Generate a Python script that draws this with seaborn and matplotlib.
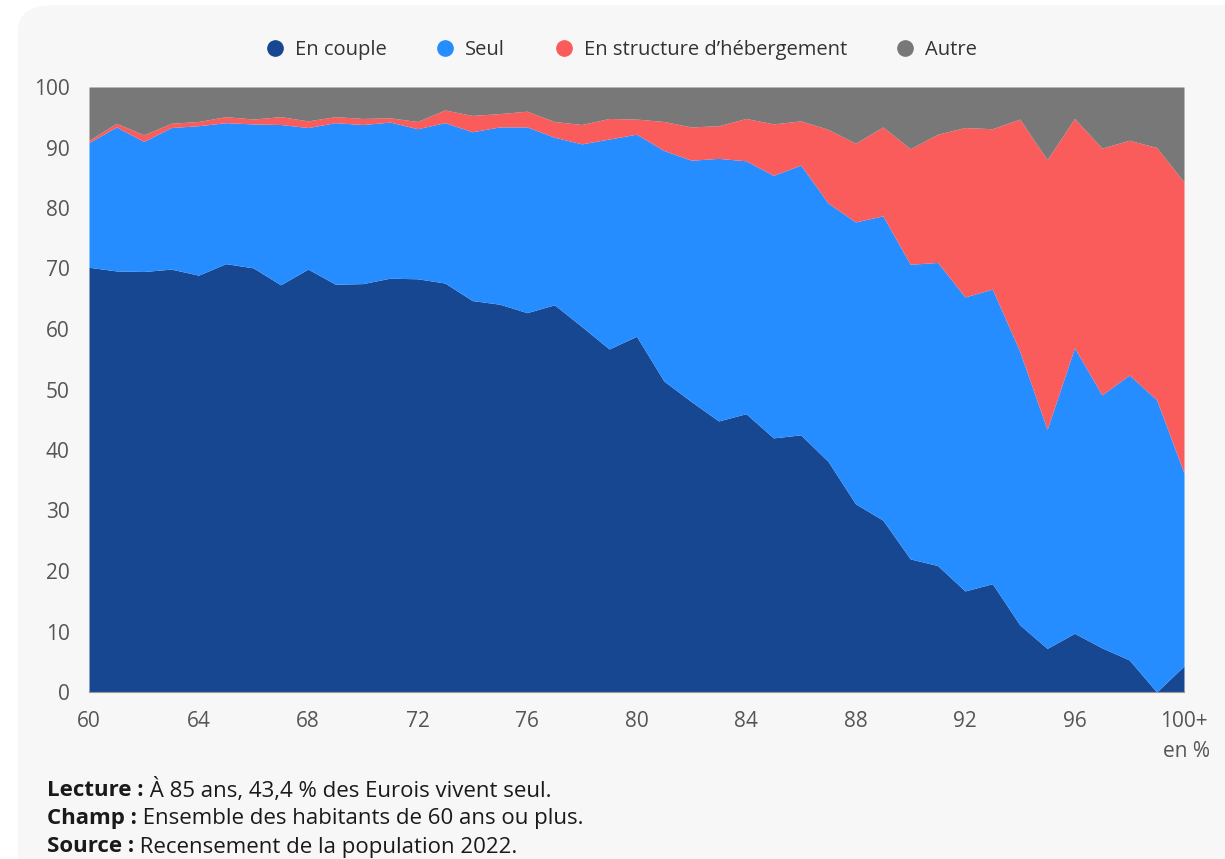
import numpy as np
import pandas as pd
import matplotlib
matplotlib.use("Agg")
import matplotlib.pyplot as plt
import seaborn as sns
from matplotlib.lines import Line2D
from matplotlib.patches import FancyBboxPatch

# Share of people aged 60+ by living situation, per age (Eure, RP 2022)
ages = list(range(60, 101))
en_couple = [70.2, 69.6, 69.5, 69.9, 68.9, 70.8, 70.1, 67.3, 69.9, 67.4,
             67.5, 68.4, 68.3, 67.6, 64.7, 64.1, 62.7, 64.0, 60.4, 56.7,
             58.8, 51.4, 48.0, 44.8, 46.0, 42.0, 42.5, 38.1, 31.1, 28.4,
             22.0, 20.9, 16.7, 17.9, 11.1, 7.2, 9.7, 7.3, 5.3, 0.0, 4.3]
seul = [20.6, 23.8, 21.5, 23.4, 24.7, 23.3, 23.8, 26.5, 23.4, 26.7,
        26.3, 25.8, 24.8, 26.5, 27.9, 29.3, 30.7, 27.7, 30.2, 34.7,
        33.4, 38.1, 39.9, 43.4, 41.8, 43.4, 44.6, 42.7, 46.6, 50.3,
        48.7, 50.1, 48.6, 48.7, 45.2, 36.2, 47.2, 41.8, 47.1, 48.3, 31.9]
hebergement = [0.4, 0.6, 1.1, 0.7, 0.7, 1.0, 0.8, 1.3, 1.1, 1.0,
               1.0, 0.7, 1.2, 2.1, 2.7, 2.2, 2.6, 2.6, 3.2, 3.4,
               2.5, 4.8, 5.5, 5.4, 7.0, 8.5, 7.3, 12.2, 13.0, 14.7,
               19.1, 21.2, 28.0, 26.5, 38.4, 44.6, 37.9, 40.8, 38.8, 41.7, 48.1]
autre = [8.8, 6.0, 7.9, 6.0, 5.7, 4.9, 5.3, 4.9, 5.6, 4.9,
         5.2, 5.1, 5.7, 3.8, 4.7, 4.4, 4.0, 5.7, 6.2, 5.2,
         5.3, 5.7, 6.6, 6.4, 5.2, 6.1, 5.6, 7.0, 9.3, 6.6,
         10.2, 7.8, 6.7, 6.9, 5.3, 12.0, 5.2, 10.1, 8.8, 10.0, 15.7]

series_names = ["En couple", "Seul", "En structure d\u2019h\u00e9bergement", "Autre"]
x_ticks = [60, 64, 68, 72, 76, 80, 84, 88, 92, 96, 100]
x_labels = ["60", "64", "68", "72", "76", "80", "84", "88", "92", "96", "100+"]
y_ticks = [0, 10, 20, 30, 40, 50, 60, 70, 80, 90, 100]

df = pd.DataFrame({"age": ages, series_names[0]: en_couple, series_names[1]: seul,
                   series_names[2]: hebergement, series_names[3]: autre})

bg = "#f7f7f7"
colors = sns.color_palette(["#174791", "#258dff", "#fa5b5b", "#787878"])
tick_col = "#555555"

sns.set_style("white")
plt.rcParams["font.family"] = ["Open Sans", "DejaVu Sans"]

fig = plt.figure(figsize=(12.25, 8.59), dpi=100, facecolor="white")

# light rounded card behind everything
card = FancyBboxPatch((18 / 1225, -0.05), 1.1, 1.05 - 5 / 859,
                      boxstyle="round,pad=0,rounding_size=0.03",
                      transform=fig.transFigure, facecolor=bg, edgecolor="none",
                      zorder=-10)
fig.patches.append(card)

ax = fig.add_axes([89 / 1225, 1 - 692 / 859, (1184 - 89) / 1225, (692 - 87) / 859])
ax.set_facecolor(bg)

ax.stackplot(df["age"], *[df[c] for c in series_names], colors=colors,
             linewidth=0)

ax.set_xlim(60, 100)
ax.set_ylim(0, 100)
ax.set_xticks(x_ticks)
ax.set_xticklabels(x_labels)
ax.set_yticks(y_ticks)
ax.tick_params(axis="both", length=0, labelsize=15, colors=tick_col)
ax.tick_params(axis="x", pad=14)
ax.tick_params(axis="y", pad=14)
for side in ["left", "right", "top"]:
    ax.spines[side].set_visible(False)
ax.spines["bottom"].set_color("#9a9a9a")
ax.spines["bottom"].set_linewidth(0.8)

ax.annotate("en %", xy=(100, 0), xycoords="data", xytext=(19, -43),
            textcoords="offset points", ha="right", va="center",
            fontsize=15, color=tick_col, annotation_clip=False)

# legend with round markers
handles = [Line2D([0], [0], marker="o", linestyle="", markersize=11,
                  markerfacecolor=c, markeredgecolor=c) for c in colors]
fig.legend(handles, series_names, loc="center", bbox_to_anchor=(616 / 1225, 1 - 50 / 859),
           ncol=4, frameon=False, fontsize=14.5, handletextpad=0.0,
           columnspacing=1.9, labelcolor="#333333")

# notes under the chart
notes = [("Lecture :", " \u00c0 85 ans, 43,4 % des Eurois vivent seul."),
         ("Champ :", " Ensemble des habitants de 60 ans ou plus."),
         ("Source :", " Recensement de la population 2022.")]
for i, (head, body) in enumerate(notes):
    y = 1 - (790 + 28.5 * i) / 859
    t = fig.text(47 / 1225, y, head, fontsize=16, fontweight="bold",
                 color="#1a1a1a", va="center")
    plt.annotate(body, xy=(1, 0.5), xycoords=t, va="center", ha="left",
                 fontsize=16, color="#1a1a1a", annotation_clip=False)

plt.savefig("out.png", dpi=100, facecolor="white")
